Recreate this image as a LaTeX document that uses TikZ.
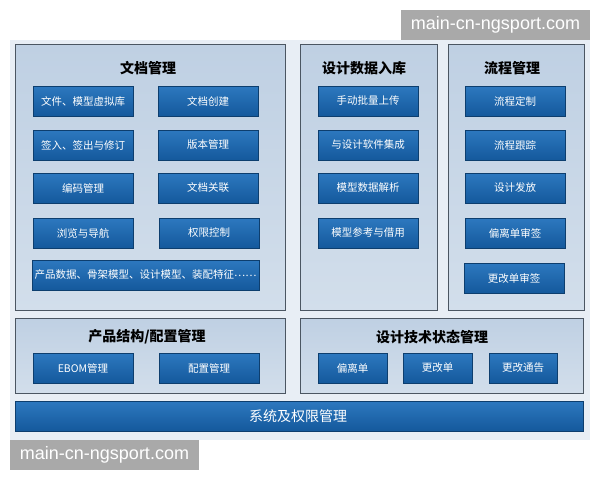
\documentclass[tikz,border=0pt]{standalone}
\usepackage{fontspec}
\newfontfamily\cjk{Noto Sans CJK SC}
\newfontfamily\wmfont{Liberation Sans}
\usetikzlibrary{positioning}
\definecolor{pagebg}{HTML}{E8EEF5}
\definecolor{panelA}{HTML}{BFD0E3}
\definecolor{panelB}{HTML}{D2DEEB}
\definecolor{panelline}{HTML}{4B5662}
\definecolor{itemA}{HTML}{2D78BF}
\definecolor{itemB}{HTML}{14599C}
\definecolor{itemline}{HTML}{0D3E6E}
\definecolor{wmgray}{HTML}{A9A9A9}

\begin{document}
\begin{tikzpicture}[x=1pt,y=-1pt,
  panel/.style={draw=panelline, line width=1pt, top color=panelA, bottom color=panelB, inner sep=0pt},
  item/.style={draw=itemline, line width=.6pt, top color=itemA, bottom color=itemB, text=white,
    minimum width=100pt, minimum height=30pt, inner sep=0pt, font=\cjk\fontsize{10.5}{12}\selectfont},
  ttl/.style={font=\cjk\bfseries\fontsize{14}{16}\selectfont, text=black},
  wmbox/.style={fill=wmgray, text=white, minimum width=189pt, minimum height=30pt, inner sep=0pt,
    font=\wmfont\fontsize{18}{20}\selectfont}]
\useasboundingbox (0,0) rectangle (600,480);
\fill[pagebg] (10,40) rectangle (590,440);

% panels
\node[panel, minimum width=270pt, minimum height=266pt] (docs) at (150,177) {};
\node[panel, minimum width=137pt, minimum height=266pt] (input) at (368.5,177) {};
\node[panel, minimum width=136pt, minimum height=266pt] (flow) at (516,177) {};
\node[panel, minimum width=270pt, minimum height=75pt] (prod) at (150,355.5) {};
\node[panel, minimum width=283pt, minimum height=75pt] (state) at (441.5,355.5) {};
\node[draw=itemline, line width=.8pt, top color=itemA, bottom color=itemB, minimum width=568pt,
  minimum height=30pt, inner sep=0pt] (sys) at (299,416) {};
\node[font=\cjk\fontsize{14}{16}\selectfont, text=white] (sysT) at (298,416) {系统及权限管理};

% titles
\node[ttl] (docsT) at (148,68) {文档管理};
\node[ttl] (inputT) at (364,68) {设计数据入库};
\node[ttl] (flowT) at (512,68) {流程管理};
\node[ttl] (prodT) at (147,337) {产品结构/配置管理};
\node[ttl] (stateT) at (432,337) {设计技术状态管理};

% 文档管理
\node[item] (wj) at (83,101) {文件、模型虚拟库};
\node[item] (cj) at (208,101) {文档创建};
\node[item] (qr) at (83,145) {签入、签出与修订};
\node[item] (bb) at (208,145) {版本管理};
\node[item] (bm) at (83,188) {编码管理};
\node[item] (gl) at (208,188) {文档关联};
\node[item] (ll) at (83,233) {浏览与导航};
\node[item] (qx) at (209,233) {权限控制};
\node[item, minimum width=227pt] (sj) at (145.5,275) {产品数据、骨架模型、设计模型、装配特征\raisebox{.35ex}{……}};

% 设计数据入库
\node[item] (sd) at (368,101) {手动批量上传};
\node[item] (jc) at (368,145) {与设计软件集成};
\node[item] (jx) at (368,188) {模型数据解析};
\node[item] (ck) at (368,233) {模型参考与借用};

% 流程管理
\node[item] (dz) at (515,101) {流程定制};
\node[item] (gz) at (515,145) {流程跟踪};
\node[item] (ff) at (515,188) {设计发放};
\node[item] (pl) at (515,233) {偏离单审签};
\node[item] (gg) at (514,278) {更改单审签};

% 产品结构/配置管理
\node[item] (ebom) at (83,368) {EBOM管理};
\node[item] (pz) at (209,368) {配置管理};

% 设计技术状态管理
\node[item, minimum width=69pt] (pld) at (352.5,368) {偏离单};
\node[item, minimum width=69pt] (ggd) at (437.5,368) {更改单};
\node[item, minimum width=68pt] (tg) at (523,368) {更改通告};

% watermarks
\node[wmbox] (wm1) at (495.5,25) {main-cn-ngsport.com};
\node[wmbox] (wm2) at (104.5,455) {main-cn-ngsport.com};
\end{tikzpicture}
\end{document}
